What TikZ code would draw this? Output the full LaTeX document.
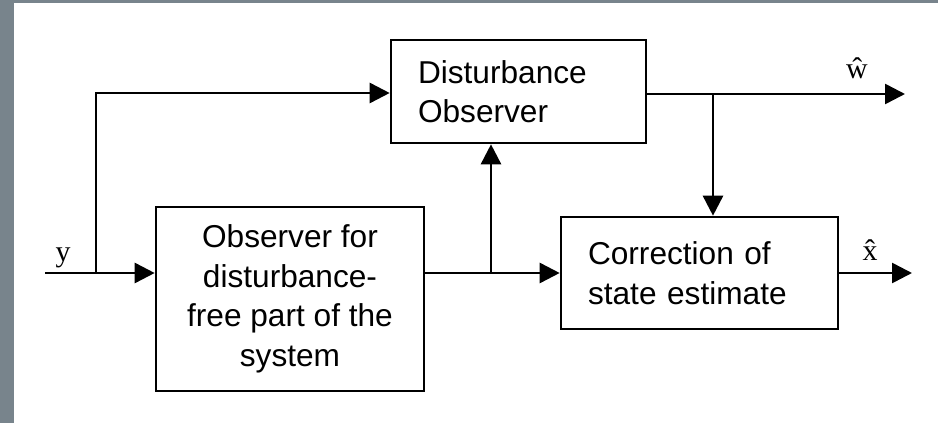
\documentclass[tikz,border=0pt]{standalone}
\usepackage{fontspec}
\setmainfont{Liberation Sans}
\newfontfamily\labelfont{Liberation Serif}
\usetikzlibrary{arrows.meta, positioning}
\definecolor{frame}{RGB}{120,132,140}

\begin{document}
\begin{tikzpicture}[
    x=0.02cm, y=-0.02cm,
    block/.style={draw, line width=1.5pt, inner xsep=0.54cm, inner ysep=0pt,
        font=\fontsize{18}{22.5}\selectfont},
    lefttext/.style={block, align=left},
    label/.style={font=\labelfont\fontsize{17}{19}\selectfont, inner sep=0pt},
    line/.style={line width=1.5pt},
    arrow/.style={line, -{Triangle[length=0.4cm, width=0.4cm]}}
]
\fill[frame] (0,0) rectangle (938,423);
\fill[white] (14,3) rectangle (938,423);
\useasboundingbox (0,0) rectangle (938,423);

\node[block, align=center, minimum width=5.36cm, minimum height=3.68cm] (obs) at (290,299)
    {Observer for\\disturbance-\\free part of the\\system};
\node[lefttext, text width=4.02cm, minimum height=2.06cm] (dob) at (518.5,91.5)
    {Disturbance\\Observer};
\node[lefttext, text width=4.46cm, minimum height=2.24cm] (cor) at (699.5,273)
    {Correction of\\state estimate};

\coordinate (yin) at (45,273);
\coordinate (ysplit) at (96,273);
\coordinate (ytop) at (96,93);
\coordinate (osplit) at (491,273);
\coordinate (wsplit) at (713,94);
\coordinate (wout) at (905,94);
\coordinate (xout) at (912,273);

\node[label] (ylab) at (63,258) {y};
\node[label] (wlab) at (857,68) {\^{w}};
\node[label] (xlab) at (870,250) {\^{x}};

\draw[line] (yin) -- (ysplit);
\draw[arrow] (ysplit) -- (obs.west |- ysplit);
\draw[arrow] (ysplit) -- (ytop) -- (dob.west |- ytop);
\draw[line] (obs.east |- osplit) -- (osplit);
\draw[arrow] (osplit) -- (cor.west);
\draw[arrow] (osplit) -- (dob.south -| osplit);
\draw[line] (dob.east |- wsplit) -- (wsplit);
\draw[arrow] (wsplit) -- (wout);
\draw[arrow] (wsplit) -- (cor.north -| wsplit);
\draw[arrow] (cor.east) -- (xout);
\end{tikzpicture}
\end{document}
